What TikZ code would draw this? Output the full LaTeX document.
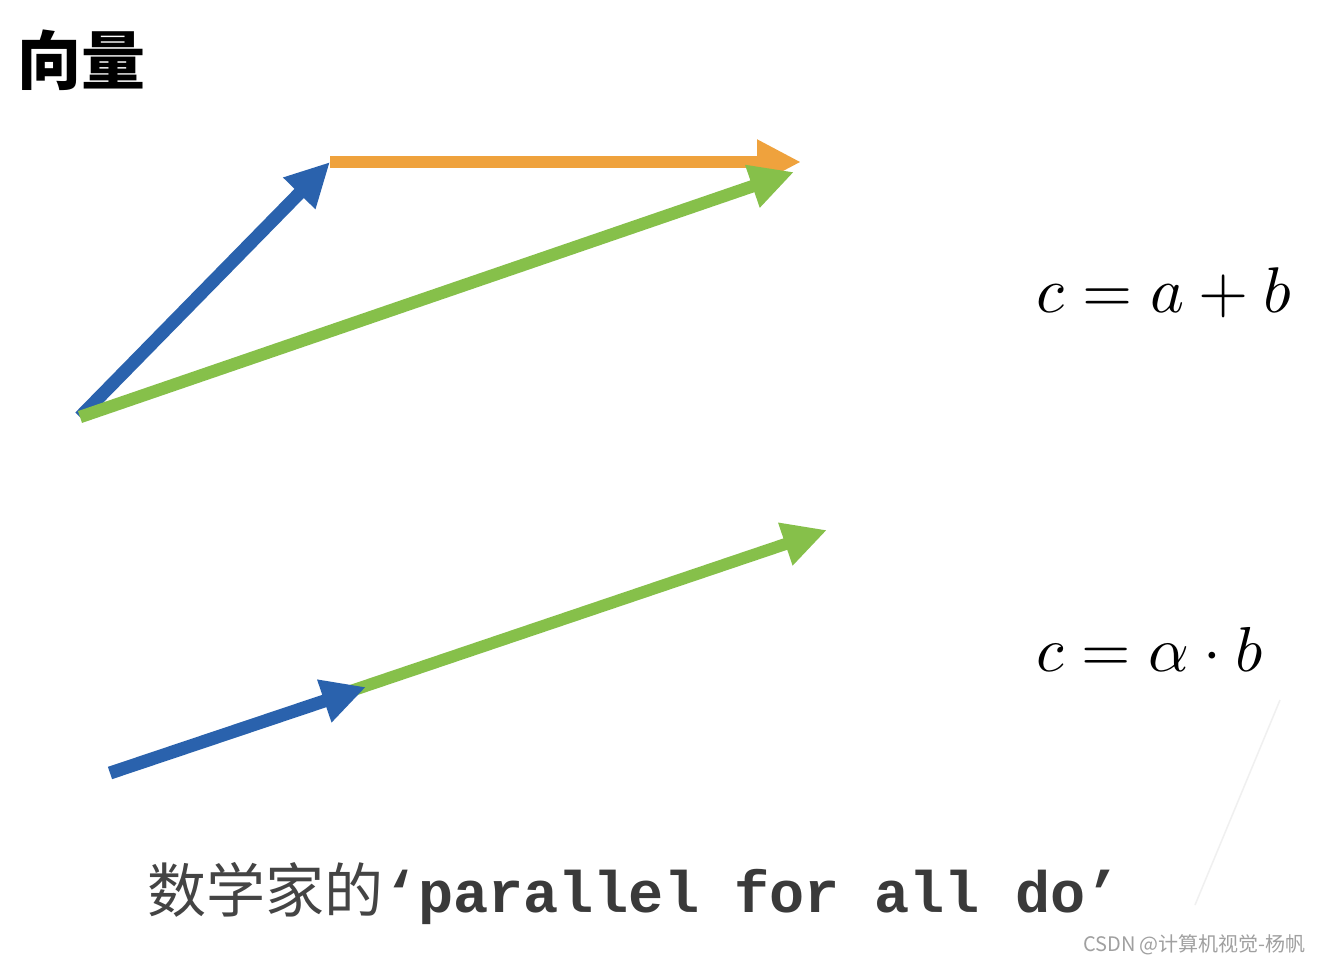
\documentclass[tikz,border=0pt]{standalone}
\usepackage{fontspec}
\setmonofont{Liberation Mono}
\newfontfamily\cjk{Noto Sans CJK SC}
\usetikzlibrary{arrows.meta}
\definecolor{bluev}{HTML}{2A62AD}
\definecolor{orangev}{HTML}{EFA23D}
\definecolor{greenv}{HTML}{86C04A}
\definecolor{txtgray}{HTML}{3A3A3A}
\definecolor{capgray}{HTML}{444444}
\definecolor{wmgray}{HTML}{A0A0A0}
\begin{document}
\begin{tikzpicture}[x=1pt,y=-1pt,
  vec/.style={line width=13pt,-{Triangle[length=44pt,width=42pt]}},
  formula/.style={anchor=base west,inner sep=0pt}]
\useasboundingbox (0,0) rectangle (1322,963);
\fill[white] (0,0) rectangle (1322,963);
% faint artifact line
\draw[black!6,line width=1.5pt] (1280,700) -- (1195,905);
% title
\node[anchor=west,inner sep=0pt,font=\cjk\bfseries\fontsize{64}{70}\selectfont] (title) at (17,60) {向量};
% top triangle
\coordinate (O) at (80,417);
\coordinate (A) at (330,162);
\coordinate (B) at (801,162);
\coordinate (Bg) at (794,172);
\draw[vec,bluev] (O) -- (A);
\draw[vec,orangev,line width=12pt] (A) -- (B);
\draw[vec,greenv,line width=12.5pt] (O) -- (Bg);
% bottom
\coordinate (P) at (110,773);
\coordinate (Q) at (366,687);
\coordinate (R) at (827,530);
\draw[vec,greenv,line width=12pt] (330,698) -- (R);
\draw[vec,bluev] (P) -- (Q);
% formulas
\node[formula] (f1) at (1036,312) {\scalebox{6.45}{$c=a+b$}};
\node[formula] (f2) at (1036,671) {\scalebox{6.35}{$c=\alpha\cdot b$}};
% bottom caption
\node[anchor=base west,inner sep=0pt] (cap) at (147,912)
  {{\color{capgray}\cjk\fontsize{59}{66}\selectfont 数学家的}{\color{txtgray}\ttfamily\bfseries\fontsize{58.5}{66}\selectfont ‘parallel for all do’}};
% watermark
\node[anchor=base east,inner sep=0pt,text=wmgray,font=\cjk\fontsize{20}{22}\selectfont] (wm) at (1306,951) {CSDN @计算机视觉-杨帆};
\end{tikzpicture}
\end{document}
